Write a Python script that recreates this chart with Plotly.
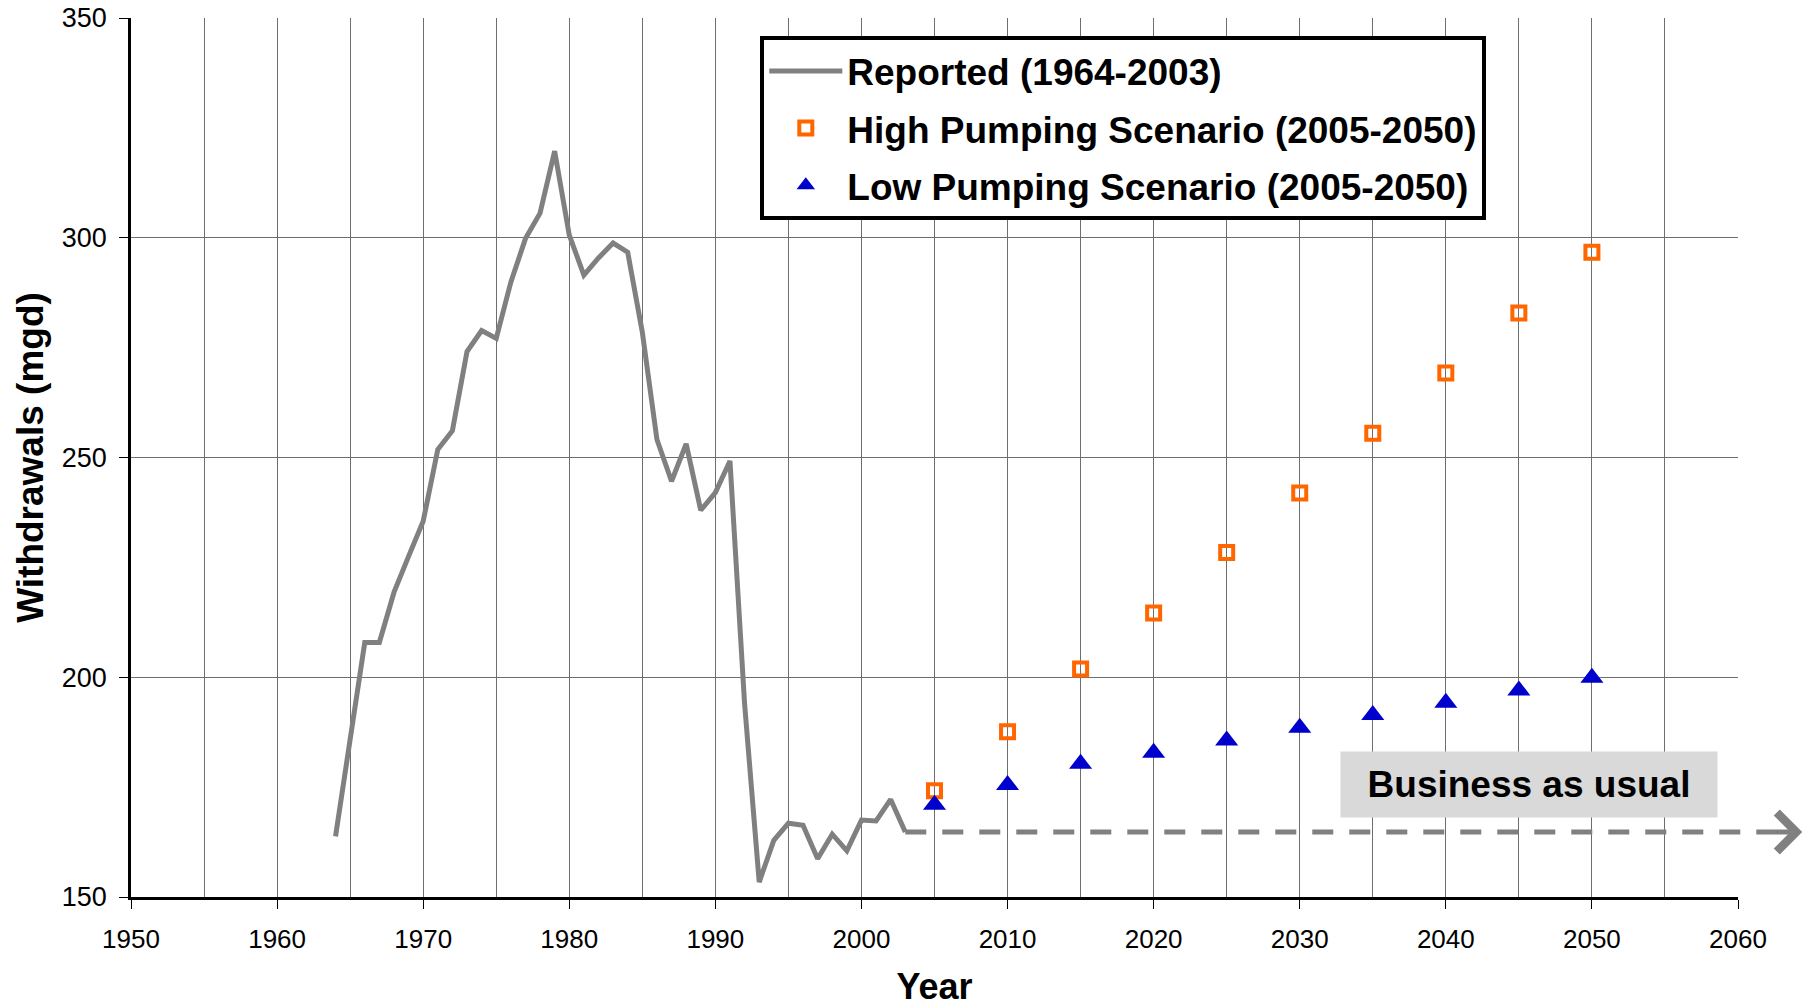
import plotly.graph_objects as go

# ---------------- data ----------------
REPORTED_YEARS = list(range(1964, 2004))
REPORTED_MGD = [
    163.8, 186.2, 207.9, 207.9, 219.3, 227.5, 235.5, 251.8, 256.1, 274.1,
    278.9, 277.1, 289.9, 299.8, 305.6, 319.7, 300.6, 291.5, 295.4, 298.8,
    296.7, 278.5, 254.1, 244.6, 253.1, 238.0, 242.0, 249.2, 194.0, 153.4,
    162.9, 166.8, 166.3, 158.7, 164.3, 160.5, 167.5, 167.3, 172.2, 164.8,
]
SCENARIO_YEARS = [2005, 2010, 2015, 2020, 2025, 2030, 2035, 2040, 2045, 2050]
HIGH_MGD = [174.2, 187.6, 201.9, 214.6, 228.4, 241.9, 255.5, 269.2, 282.9, 296.7]
LOW_MGD = [171.0, 175.5, 180.3, 182.8, 185.6, 188.5, 191.4, 194.2, 197.0, 199.9]

X_RANGE = [1950, 2060]
Y_RANGE = [150, 350]
X_TICKS = list(range(1950, 2061, 10))
Y_TICKS = [150, 200, 250, 300, 350]

LEGEND_NAMES = [
    "Reported (1964-2003)",
    "High Pumping Scenario (2005-2050)",
    "Low Pumping Scenario (2005-2050)",
]
BAU_LABEL = "Business as usual"
BAU_START_YEAR = REPORTED_YEARS[-1]
BAU_LEVEL = REPORTED_MGD[-1]
BAU_ARROW_END_YEAR = 2064.4
BAU_LABEL_YEAR = 2045.7
BAU_LABEL_MGD = 175.6

FONT = "Liberation Sans, Arial, sans-serif"
GRID = "#6e6e6e"
GRAY = "#808080"


def paper_x(year):
    return (year - X_RANGE[0]) / (X_RANGE[1] - X_RANGE[0])


def paper_y(v):
    return (v - Y_RANGE[0]) / (Y_RANGE[1] - Y_RANGE[0])


fig = go.Figure()

fig.add_trace(go.Scatter(
    x=REPORTED_YEARS, y=REPORTED_MGD, mode="lines", name=LEGEND_NAMES[0],
    line=dict(color=GRAY, width=5), legendgroup="a",
))
fig.add_trace(go.Scatter(
    x=SCENARIO_YEARS, y=HIGH_MGD, mode="markers", name=LEGEND_NAMES[1],
    marker=dict(symbol="square-open", size=13, color="#FF6600",
                line=dict(color="#FF6600", width=4)),
    legendgroup="b",
))
fig.add_trace(go.Scatter(
    x=SCENARIO_YEARS, y=LOW_MGD, mode="markers", name=LEGEND_NAMES[2],
    marker=dict(symbol="triangle-up", size=20, color="#0000CC"),
    legendgroup="c",
))

# Business-as-usual dashed line (extends past the plot edge) + arrow head
fig.add_shape(
    type="line", xref="paper", yref="paper",
    x0=paper_x(BAU_START_YEAR), x1=paper_x(BAU_ARROW_END_YEAR) - 0.02,
    y0=paper_y(BAU_LEVEL), y1=paper_y(BAU_LEVEL),
    line=dict(color=GRAY, width=5, dash="21px,16px"),
)
fig.add_annotation(
    xref="paper", yref="paper",
    x=paper_x(BAU_ARROW_END_YEAR), y=paper_y(BAU_LEVEL),
    ax=-34, ay=0, text="", showarrow=True,
    arrowhead=4, arrowsize=1.5, arrowwidth=5, arrowcolor=GRAY,
)
fig.add_annotation(
    x=BAU_LABEL_YEAR, y=BAU_LABEL_MGD, xref="x", yref="y",
    text="<b>" + BAU_LABEL + "</b>", showarrow=False,
    font=dict(family=FONT, size=37, color="black"),
    bgcolor="#D9D9D9", width=376, height=65, borderpad=0,
)

fig.update_layout(
    width=1807, height=1007,
    margin=dict(l=131, r=69, t=18, b=110),
    paper_bgcolor="white", plot_bgcolor="white",
    font=dict(family=FONT, color="black"),
    showlegend=True,
    legend=dict(
        x=0.3916, y=0.979, xanchor="left", yanchor="top",
        bgcolor="white", bordercolor="black", borderwidth=4,
        font=dict(family=FONT, size=37, color="black", weight="bold"),
        traceorder="grouped", tracegroupgap=6, itemwidth=73,
    ),
    xaxis=dict(
        range=X_RANGE, tickvals=X_TICKS, ticktext=[str(t) for t in X_TICKS],
        showgrid=True, gridcolor=GRID, gridwidth=1,
        minor=dict(dtick=5, tick0=1950, showgrid=True, gridcolor=GRID, gridwidth=1),
        showline=True, linecolor="black", linewidth=2.5,
        ticks="outside", ticklen=9, tickwidth=1, tickcolor="black",
        tickfont=dict(family=FONT, size=26, color="black"),
        ticklabelstandoff=8,
        zeroline=False, automargin=False,
        title=dict(text="<b>Year</b>", font=dict(family=FONT, size=36, color="black"),
                   standoff=23),
    ),
    yaxis=dict(
        range=Y_RANGE, tickvals=Y_TICKS,
        showgrid=True, gridcolor=GRID, gridwidth=1,
        showline=True, linecolor="black", linewidth=2.5,
        ticks="outside", ticklen=9, tickwidth=1, tickcolor="black",
        tickfont=dict(family=FONT, size=27, color="black"),
        ticklabelstandoff=7,
        zeroline=False, automargin=False,
        title=dict(text="<b>Withdrawals (mgd)</b>",
                   font=dict(family=FONT, size=37, color="black"), standoff=7),
    ),
)

fig.write_html("out.html", config={"displayModeBar": False},
               post_script="document.body.style.margin='0';document.body.style.overflow='hidden';")
